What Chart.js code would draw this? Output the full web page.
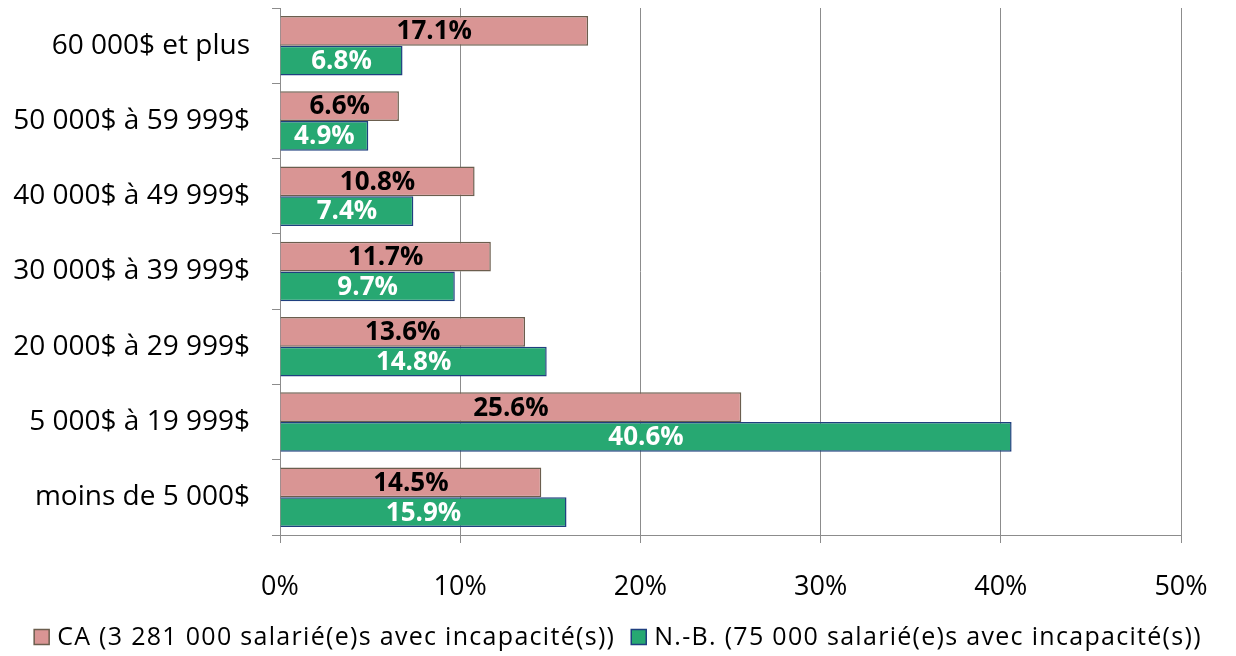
<!DOCTYPE html>
<html><head><meta charset="utf-8">
<script src="https://cdn.jsdelivr.net/npm/chart.js@4.4.0/dist/chart.umd.min.js"></script>
<style>html,body{margin:0;padding:0;background:#fff}#wrap{width:1236px;height:656px}</style>
</head><body><div id="wrap"><canvas id="c" width="1236" height="656"></canvas></div>
<script>
const categories = ["60 000$ et plus","50 000$ à 59 999$","40 000$ à 49 999$","30 000$ à 39 999$","20 000$ à 29 999$","5 000$ à 19 999$","moins de 5 000$"];
const caValues = [17.1, 6.6, 10.8, 11.7, 13.6, 25.6, 14.5];
const nbValues = [6.8, 4.9, 7.4, 9.7, 14.8, 40.6, 15.9];
const seriesNames = ["CA (3 281 000 salarié(e)s avec incapacité(s))","N.-B. (75 000 salarié(e)s avec incapacité(s))"];
const xTicks = [0,10,20,30,40,50];

const FONT = "'Open Sans', Lato, sans-serif";

const labelPlugin = {
  id:'barLabels',
  afterDatasetsDraw(chart){
    const ctx = chart.ctx;
    ctx.save();
    ctx.font = "bold 26px " + FONT;
    ctx.textAlign='center'; ctx.textBaseline='middle';
    chart.data.datasets.forEach((ds,di)=>{
      const meta = chart.getDatasetMeta(di);
      meta.data.forEach((bar,i)=>{
        const x = (bar.x + bar.base)/2;
        ctx.fillStyle = di===0 ? '#000' : '#fff';
        ctx.fillText(ds.data[i].toFixed(1)+'%', x, bar.y+1);
      });
    });
    ctx.restore();
  }
};

const legendPlugin = {
  id:'customLegend',
  afterDraw(chart){
    const ctx = chart.ctx;
    ctx.save();
    ctx.font = "25px " + FONT;
    if ('letterSpacing' in ctx) ctx.letterSpacing = '1.3px';
    ctx.textBaseline = 'middle'; ctx.textAlign = 'left';
    const cy = 637, box = 15, gapBox = 8, gapItem = 16;
    const items = chart.data.datasets.map(ds => ({ds, w: ctx.measureText(ds.label).width}));
    const total = items.reduce((a,it)=>a+box+gapBox+it.w,0) + gapItem*(items.length-1);
    let x = (chart.width - total)/2;
    items.forEach(it=>{
      ctx.fillStyle = it.ds.backgroundColor;
      ctx.fillRect(x, cy-box/2, box, box);
      ctx.strokeStyle = it.ds.borderColor; ctx.lineWidth = 1.5;
      ctx.strokeRect(x, cy-box/2, box, box);
      ctx.fillStyle = '#000';
      ctx.fillText(it.ds.label, x+box+gapBox, cy+1);
      x += box+gapBox+it.w+gapItem;
    });
    ctx.restore();
  }
};

new Chart(document.getElementById('c'), {
  type:'bar',
  data:{
    labels:categories,
    datasets:[
      {label:seriesNames[0], data:caValues, backgroundColor:'#D99594', borderColor:'#6B5E4E', borderWidth:1.5, borderSkipped:'start'},
      {label:seriesNames[1], data:nbValues, backgroundColor:'#27A872', borderColor:'#1F3F7F', borderWidth:1.5, borderSkipped:'start'}
    ]
  },
  options:{
    indexAxis:'y',
    responsive:false,
    animation:false,
    layout:{padding:{top:8,right:55,left:0,bottom:39}},
    datasets:{bar:{categoryPercentage:0.79, barPercentage:1.0}},
    scales:{
      x:{
        min:0,max:50,
        afterBuildTicks(s){ s.ticks = xTicks.map(v=>({value:v})); },
        ticks:{callback:v=>v+'%', color:'#000', font:{family:FONT,size:27}, padding:28},
        grid:{color:'#8c8c8c', lineWidth:1, tickLength:8, drawTicks:true},
        border:{color:'#8c8c8c'},
        afterFit(s){ s.height = 82; s.paddingLeft = 0; s.paddingRight = 0; }
      },
      y:{
        ticks:{color:'#000', font:{family:FONT,size:28}, padding:22},
        grid:{offset:true, drawOnChartArea:false, color:'#8c8c8c', tickLength:8},
        border:{color:'#8c8c8c'},
        afterFit(s){ s.width = 280; s.paddingTop = 0; s.paddingBottom = 0; }
      }
    },
    plugins:{
      legend:{display:false},
      tooltip:{enabled:false}
    }
  },
  plugins:[labelPlugin, legendPlugin]
});
</script></body></html>
